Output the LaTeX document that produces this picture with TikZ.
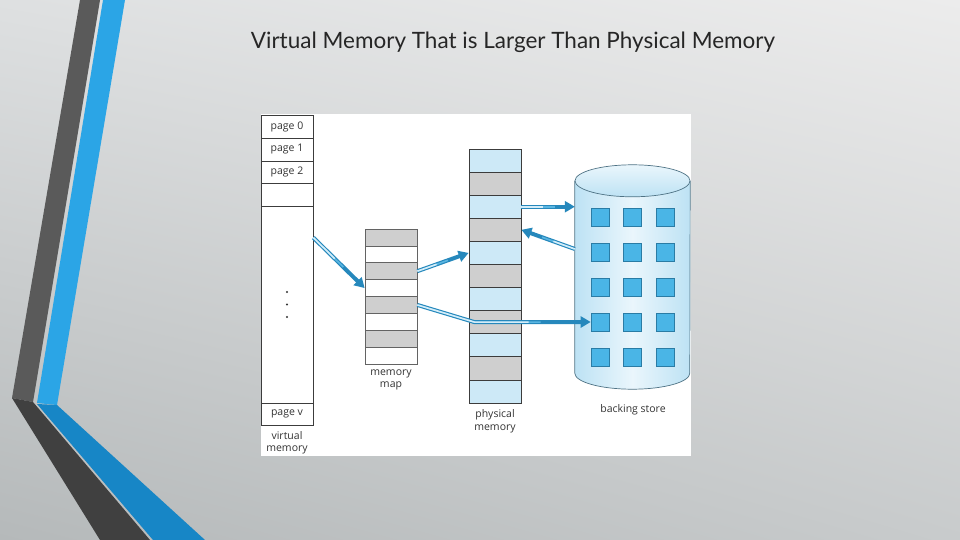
\documentclass[tikz,border=0pt]{standalone}
\usepackage{fontspec}
\setmainfont{Open Sans}
\newfontfamily\titlefont{Lato}
\usetikzlibrary{arrows.meta,calc,shadings}
\definecolor{bgUL}{HTML}{DEE0E1}
\definecolor{bgUR}{HTML}{ECECEC}
\definecolor{bgLL}{HTML}{B5B9BA}
\definecolor{bgLR}{HTML}{C8CBCC}
\definecolor{decGray}{HTML}{5A5A5A}
\definecolor{decDark}{HTML}{404040}
\definecolor{decBlue}{HTML}{2BA5E6}
\definecolor{decBlueLow}{HTML}{1786C6}
\definecolor{vmLine}{HTML}{3C3C3C}
\definecolor{cellGray}{HTML}{CFCFCF}
\definecolor{cellBlue}{HTML}{CDE9F7}
\definecolor{sqFill}{HTML}{4AB5E6}
\definecolor{sqLine}{HTML}{2A7CA5}
\definecolor{cylEdge}{HTML}{BDE2F4}
\definecolor{cylMid}{HTML}{EAF6FC}
\definecolor{cylLine}{HTML}{4F7385}
\definecolor{arrBlue}{HTML}{2688BC}
\definecolor{arrMid}{HTML}{5AB6E2}
\definecolor{arrPale}{HTML}{D4EDF9}
\definecolor{txt}{HTML}{333333}
\begin{document}
\begin{tikzpicture}[x=1pt,y=-1pt,
  cell/.style={draw=vmLine, line width=0.7pt, minimum width=52pt, inner sep=0pt, font=\fontsize{10.5}{12}\selectfont, text=txt},
  lbl/.style={align=center, inner sep=0pt, font=\fontsize{10.5}{12.5}\selectfont, text=txt},
  sq/.style={draw=sqLine, line width=0.6pt, fill=sqFill, minimum size=18pt, inner sep=0pt},
  dotn/.style={circle, fill=txt, inner sep=0pt, minimum size=2.2pt},
  arr/.style={draw=arrBlue, line width=4pt, -{Triangle[length=10pt,width=11pt]},
    postaction={draw=arrMid, line width=1.6pt, -, shorten >=#1},
    postaction={draw=arrPale, line width=1.6pt, -, shorten >=#1+12pt}}]
\useasboundingbox (0,0) rectangle (960,540);
% background
\shade[upper left=bgUL, upper right=bgUR, lower left=bgLL, lower right=bgLR] (0,0) rectangle (960,540);
% left decoration
\fill[decGray] (80,0) -- (100,0) -- (33,402) -- (12,398) -- cycle;
\fill[decBlue] (103,0) -- (125,0) -- (57,405) -- (37,403) -- cycle;
\fill[decDark] (12,398) -- (33,402) -- (150,540) -- (100,540) -- cycle;
\fill[decBlueLow] (37,404) -- (57,405) -- (205,540) -- (153,540) -- cycle;
% title
\node[text=black!85, font=\titlefont\fontsize{22.5}{26}\selectfont] (title) at (513,42) {Virtual Memory That is Larger Than Physical Memory};
% white panel
\fill[white] (261,114) rectangle (691,456);
% virtual memory
\node[cell, minimum height=22.5pt] (vp0) at (287,126.75) {page 0};
\node[cell, minimum height=23pt] (vp1) at (287,149.5) {page 1};
\node[cell, minimum height=22pt] (vp2) at (287,172) {page 2};
\node[cell, minimum height=23pt] (vblank) at (287,194.5) {};
\node[cell, minimum height=197pt] (vbig) at (287,304.5) {};
\node[cell, minimum height=22pt] (vpv) at (287,414) {page v};
\node[dotn] (d1) at (287,292) {};
\node[dotn] (d2) at (287,304.5) {};
\node[dotn] (d3) at (287,317) {};
\node[lbl] (vmlbl) at (287,443) {virtual\\memory};
% memory map
\foreach \i/\c in {0/cellGray,1/white,2/cellGray,3/white,4/cellGray,5/white,6/cellGray,7/white}{
  \pgfmathsetmacro\yy{229+16.875*(\i+0.5)}
  \node[cell, fill=\c, minimum height=16.875pt, draw=vmLine!80] (mm\i) at (391,\yy) {};
}
\node[lbl] (mmlbl) at (391,380) {memory\\map};
% physical memory
\foreach \i/\c in {0/cellBlue,1/cellGray,2/cellBlue,3/cellGray,4/cellBlue,5/cellGray,6/cellBlue,7/cellGray,8/cellBlue,9/cellGray,10/cellBlue}{
  \pgfmathsetmacro\yy{149+23.09*(\i+0.5)}
  \node[cell, fill=\c, minimum height=23.09pt] (pm\i) at (495,\yy) {};
}
\node[lbl] (pmlbl) at (495,421.5) {physical\\memory};
% backing store
\node[minimum width=115pt, minimum height=192pt, inner sep=0pt] (bs) at (632.5,277) {};
\shade[left color=cylEdge, right color=cylEdge, middle color=cylMid]
  (bs.north west) -- (bs.south west) arc[start angle=180, end angle=360, x radius=57.5pt, y radius=16pt] -- (bs.north east) -- cycle;
\draw[cylLine, line width=0.7pt]
  (bs.north west) -- (bs.south west) arc[start angle=180, end angle=360, x radius=57.5pt, y radius=16pt] -- (bs.north east);
\shadedraw[top color=cylMid, bottom color=cylEdge, draw=cylLine, line width=0.7pt] (bs.north) ellipse[x radius=57.5pt, y radius=16pt];
\foreach \r in {0,...,4}{
  \foreach \c in {0,1,2}{
    \node[sq] (sq\r\c) at ({600+32.5*\c},{217+35*\r}) {};
  }
}
\node[lbl] (bslbl) at (633,410) {backing store};
% arrows
\draw[arr=30pt] ($(vbig.north east)+(0,32)$) -- (mm3.west);
\draw[arr=22pt] (mm2.east) -- (pm4.west);
\draw[arr=50pt] (mm4.east) -- ($(pm7.west)+(6,0)$) -- (sq30.west);
\draw[arr=20pt] (pm2.east) -- (bs.west |- pm2.east);
\coordinate (bsout) at ($(bs.west)+(0,-28)$);
\draw[arr=22pt] (bsout) -- (pm3.east);
\end{tikzpicture}
\end{document}
